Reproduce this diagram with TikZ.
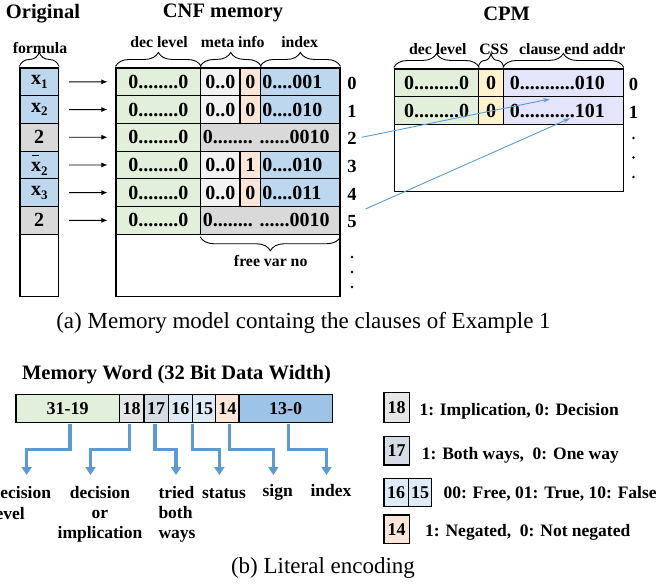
\documentclass[tikz,border=0pt]{standalone}
\usepackage{fontspec}
\setmainfont{Liberation Serif}
\usetikzlibrary{arrows.meta,decorations.pathreplacing}

% palette
\definecolor{decgreen}{HTML}{E2EFDA}
\definecolor{metagray}{HTML}{F2F2F2}
\definecolor{signpeach}{HTML}{FBE5D6}
\definecolor{idxblue}{HTML}{BDD7EE}
\definecolor{clausegray}{HTML}{D9D9D9}
\definecolor{cssyellow}{HTML}{FFF2CC}
\definecolor{addrlav}{HTML}{E4E4FA}
\definecolor{impgray}{HTML}{E7E6E6}
\definecolor{bothslate}{HTML}{D6DCE5}
\definecolor{statblue}{HTML}{DEEBF7}
\definecolor{wordblue}{HTML}{9DC3E6}
\definecolor{linkblue}{HTML}{5B9BD5}

% font sizes
\newcommand\fTitle{\fontsize{20.5}{24}\selectfont\bfseries}
\newcommand\fCell{\fontsize{20}{24}\selectfont\bfseries}
\newcommand\fBrace{\fontsize{15.8}{18}\selectfont\bfseries}
\newcommand\fRow{\fontsize{18.5}{22}\selectfont\bfseries}
\newcommand\fBit{\fontsize{18}{21}\selectfont\bfseries}
\newcommand\fField{\fontsize{17.5}{20}\selectfont\bfseries}
\newcommand\fCaption{\fontsize{23}{27}\selectfont}

% literal glyphs: variable with index, negated variable with a bar
\newcommand\lsub[1]{\raisebox{-0.4ex}{\fontsize{13}{13}\selectfont #1}}
\newcommand\negx{\rlap{\hspace{0.04em}\raisebox{0.78em}{\rule{0.34em}{1.2pt}}}x}

\tikzset{
  cell/.style={draw=black, line width=1.1pt, inner sep=0pt, minimum height=27.7pt, font=\fCell},
  celltext/.style={inner sep=0pt, font=\fCell},
  title/.style={inner sep=0pt, font=\fTitle, anchor=base},
  bracelabel/.style={inner sep=0pt, font=\fBrace, anchor=base},
  rowno/.style={inner sep=0pt, font=\fRow},
  moredot/.style={circle, fill=black, draw=none, inner sep=0pt, minimum size=2.8pt},
  curly/.style={decorate, decoration={brace, amplitude=14pt, raise=1pt}, line width=0.9pt},
  curlydown/.style={decorate, decoration={brace, mirror, amplitude=14pt, raise=2pt}, line width=0.9pt},
  rowarrow/.style={-{Latex[length=6pt,width=5pt]}, line width=0.9pt},
  link/.style={-{Stealth[length=7pt,width=4.5pt]}, draw=linkblue, line width=0.9pt},
  bitbox/.style={draw=black, line width=1.1pt, inner sep=0pt, minimum height=28.4pt, font=\fBit},
  fieldarrow/.style={-{Triangle[length=8pt,width=10pt]}, draw=linkblue, line width=3.3pt},
  fieldlabel/.style={inner sep=0pt, font=\fField},
  legendbox/.style={draw=black, line width=1.1pt, inner sep=0pt, font=\fBit},
  legendtext/.style={inner sep=0pt, font=\fField, anchor=base west},
  caption/.style={inner sep=0pt, font=\fCaption, anchor=base},
}

\begin{document}
\begin{tikzpicture}[x=1pt,y=-1pt]
\useasboundingbox (0,0) rectangle (656,584);

% ---------------- titles ----------------
\node[title] (tOrig) at (43,18.3) {Original};
\node[title] (tCnf)  at (223,17.5) {CNF memory};
\node[title] (tCpm)  at (506.7,20) {CPM};

% ---------------- original formula column ----------------
\node[cell, fill=idxblue,    minimum width=38.5pt] (f0) at (39.25,81.85)  {x\lsub{1}};
\node[cell, fill=idxblue,    minimum width=38.5pt] (f1) at (39.25,109.55) {x\lsub{2}};
\node[cell, fill=clausegray, minimum width=38.5pt] (f2) at (39.25,137.25) {2};
\node[cell, fill=idxblue,    minimum width=38.5pt] (f3) at (39.25,164.95) {\negx\lsub{2}};
\node[cell, fill=idxblue,    minimum width=38.5pt] (f4) at (39.25,192.65) {x\lsub{3}};
\node[cell, fill=clausegray, minimum width=38.5pt] (f5) at (39.25,220.35) {2};
\node[cell, minimum width=38.5pt, minimum height=62.3pt] (frest) at (39.25,265.35) {};

\draw[curly] (f0.north west) -- (f0.north east);
\node[bracelabel] (lFormula) at (40,53) {formula};

% ---------------- CNF memory ----------------
\foreach \k/\s/\v in {0/0/001,1/0/010,3/1/010,4/0/011}{
  \pgfmathsetmacro\yc{68+27.7*(\k+0.5)}
  \node[cell, fill=decgreen,  minimum width=84.7pt] (d\k) at (158.35,\yc) {0........0};
  \node[cell, fill=metagray,  minimum width=39.3pt] (m\k) at (220.35,\yc) {0..0};
  \node[cell, fill=signpeach, minimum width=20.7pt] (s\k) at (250.35,\yc) {\s};
  \node[cell, fill=idxblue,   minimum width=79.3pt] (i\k) at (300.35,\yc) {};
  \node[celltext, anchor=west] (iv\k) at ([xshift=2pt]i\k.west) {0....\v};
}
\foreach \k in {2,5}{
  \pgfmathsetmacro\yc{68+27.7*(\k+0.5)}
  \node[cell, fill=decgreen,   minimum width=84.7pt]  (d\k) at (158.35,\yc) {0........0};
  \node[cell, fill=clausegray, minimum width=139.3pt] (c\k) at (270.35,\yc) {};
  \node[celltext, anchor=west] (cv\k) at ([xshift=2.5pt]c\k.west) {0........ ......0010};
}
\node[cell, minimum width=224pt, minimum height=62.3pt] (cnfrest) at (228,265.35) {};

% row addresses
\foreach \k in {0,1,2,3,4,5}{
  \pgfmathsetmacro\yc{68+27.7*(\k+0.5)+1.5}
  \node[rowno] (r\k) at (352,\yc) {\k};
}
\node[moredot] (rd1) at (352,257) {};
\node[moredot] (rd2) at (352,272) {};
\node[moredot] (rd3) at (352,287) {};

% literal pointers
\foreach \k in {0,1,2,3,4,5}{
  \draw[rowarrow] ([xshift=10pt]f\k.east) -- ([xshift=-8pt]d\k.west);
}

% field braces
\draw[curly] (d0.north west) -- (d0.north east);
\draw[curly] (m0.north west) -- (s0.north east);
\draw[curly] (i0.north west) -- (i0.north east);
\node[bracelabel] (lDec)  at (159,47.5)   {dec level};
\node[bracelabel] (lMeta) at (232.7,47.5) {meta info};
\node[bracelabel] (lIdx)  at (299.7,47.5) {index};

\draw[curlydown] (c5.south west) -- (c5.south east);
\node[bracelabel] (lFree) at (270.7,266.7) {free var no};

% ---------------- CPM ----------------
\foreach \k/\v in {0/010,1/101}{
  \pgfmathsetmacro\yc{69+27.7*(\k+0.5)}
  \node[cell, fill=decgreen,  minimum width=84.4pt] (pd\k) at (436.5,\yc) {0.........0};
  \node[cell, fill=cssyellow, minimum width=24.6pt] (pc\k) at (491,\yc) {0};
  \node[cell, fill=addrlav,   minimum width=120pt]  (pa\k) at (563.3,\yc) {};
  \node[celltext, anchor=west] (pv\k) at ([xshift=7pt]pa\k.west) {0...........\v};
  \pgfmathsetmacro\yl{\yc+2}
  \node[rowno] (pr\k) at (633.5,\yl) {\k};
}
\node[cell, minimum width=229pt, minimum height=67.3pt] (cpmrest) at (508.8,158.05) {};
\node[moredot] (pd1x) at (633.5,138) {};
\node[moredot] (pd2x) at (633.5,157.5) {};
\node[moredot] (pd3x) at (633.5,177) {};

\draw[curly] (pd0.north west) -- (pd0.north east);
\draw[curly] (pc0.north west) -- (pc0.north east);
\draw[curly] (pa0.north west) -- (pa0.north east);
\node[bracelabel] (lPDec)  at (437.8,54.5) {dec level};
\node[bracelabel] (lCss)   at (493.8,54) {CSS};
\node[bracelabel] (lAddr)  at (572.2,54.5) {clause end addr};

% clause end links
\coordinate (k2) at (361.7,137.3);
\coordinate (k5) at (365.5,209);
\coordinate (q0) at (550,99);
\coordinate (q1) at (570,118.3);
\draw[link] (k2) -- (q0);
\draw[link] (k5) -- (q1);

% ---------------- literal encoding ----------------
\node[title] (tWord) at (176.5,379) {Memory Word (32 Bit Data Width)};

\node[bitbox, fill=decgreen,  minimum width=103.3pt] (b1) at (67.65,408.5)  {31-19};
\node[bitbox, fill=impgray,   minimum width=24.7pt]  (b2) at (131.65,408.5) {18};
\node[bitbox, fill=bothslate, minimum width=24.3pt]  (b3) at (156.15,408.5) {17};
\node[bitbox, fill=statblue,  minimum width=24pt]    (b4) at (180.3,408.5)  {16};
\node[bitbox, fill=statblue,  minimum width=23.4pt]  (b5) at (204,408.5)    {15};
\node[bitbox, fill=signpeach, minimum width=23.3pt]  (b6) at (227.35,408.5) {14};
\node[bitbox, fill=wordblue,  minimum width=93.3pt]  (b7) at (285.65,408.5) {13-0};

\coordinate (e1) at (26.7,475);
\coordinate (e2) at (90.5,475);
\coordinate (e3) at (176,475);
\coordinate (e4) at (219.3,475);
\coordinate (e6) at (273.3,475);
\coordinate (e7) at (326.5,475);
\draw[fieldarrow] ([xshift=2.35pt,yshift=-0.6pt]b1.south) -- ++(0,25.6) -| (e1);
\draw[fieldarrow] ([xshift=-2.35pt,yshift=-0.6pt]b2.south) -- ++(0,25.6) -| (e2);
\draw[fieldarrow] ([xshift=-1.15pt,yshift=-0.6pt]b3.south) -- ++(0,25.6) -| (e3);
\draw[fieldarrow] ([xshift=-0.6pt,yshift=-0.6pt]b4.south east) -- ++(0,25.6) -| (e4);
\draw[fieldarrow] ([xshift=1.95pt,yshift=-0.6pt]b6.south) -- ++(0,25.6) -| (e6);
\draw[fieldarrow] ([xshift=2.65pt,yshift=-0.6pt]b7.south) -- ++(0,25.6) -| (e7);

\node[fieldlabel, anchor=north west, align=left]   (n1) at (-9.5,486.3) {decision\\[1pt]level};
\node[fieldlabel, anchor=north, align=center]      (n2) at (100,486.3)  {decision\\or\\implication};
\node[fieldlabel, anchor=north west, align=left]   (n3) at (158.3,486.3) {tried\\both\\ways};
\node[fieldlabel, anchor=base] (n4) at (224,498.3)   {status};
\node[fieldlabel, anchor=base] (n6) at (277.7,496.7) {sign};
\node[fieldlabel, anchor=base] (n7) at (331,496.7)   {index};

% legend
\node[legendbox, fill=impgray,   minimum width=25.3pt, minimum height=30pt]   (g18) at (396.65,407.7)  {18};
\node[legendbox, fill=bothslate, minimum width=25.3pt, minimum height=28.3pt] (g17) at (396.65,450.85) {17};
\node[legendbox, fill=statblue,  minimum width=24.3pt, minimum height=28.4pt] (g16) at (396.15,492.5)  {16};
\node[legendbox, fill=statblue,  minimum width=23.4pt, minimum height=28.4pt] (g15) at (420,492.5)     {15};
\node[legendbox, fill=signpeach, minimum width=25.3pt, minimum height=28.3pt] (g14) at (396.65,529.15) {14};

\node[legendtext] (x18) at (419.3,415)   {1: Implication, 0: Decision};
\node[legendtext] (x17) at (421.7,459.3) {1: Both ways,~ 0: One way};
\node[legendtext] (x16) at (443.3,498.3) {00: Free, 01: True, 10: False};
\node[legendtext] (x14) at (425,536.7)   {1: Negated,~ 0: Not negated};

% ---------------- captions ----------------
\node[caption] (capA) at (303.5,328.5) {(a) Memory model containg the clauses of Example 1};
\node[caption] (capB) at (323,573.5)   {(b) Literal encoding};
\end{tikzpicture}
\end{document}
